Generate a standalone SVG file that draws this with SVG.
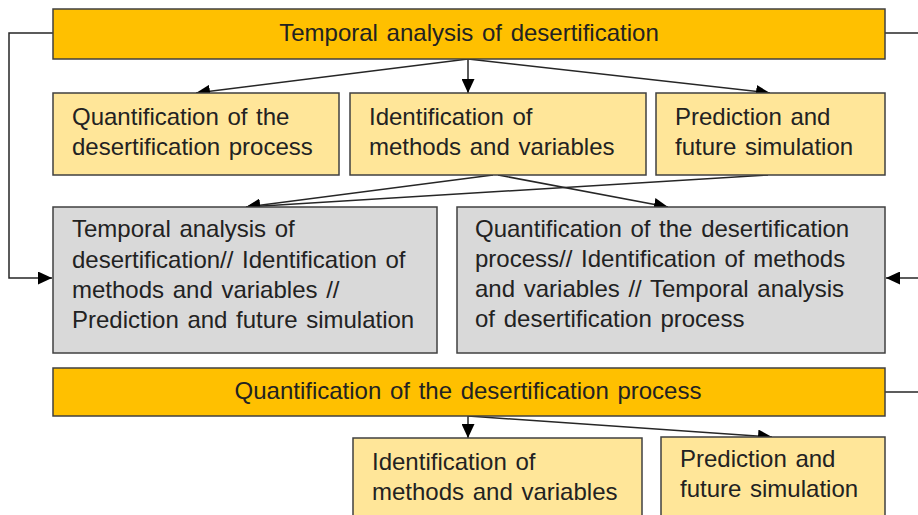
<svg xmlns="http://www.w3.org/2000/svg" width="918" height="515" viewBox="0 0 918 515">
<style>
.bar{fill:#FFC000;stroke:#404040;stroke-width:1.5}
.lt{fill:#FFE699;stroke:#404040;stroke-width:1.5}
.gr{fill:#D9D9D9;stroke:#404040;stroke-width:1.5}
text{font-family:"Liberation Sans",Arial,sans-serif;font-size:24px;fill:#222;word-spacing:2px}
.c{text-anchor:middle}
.ln{fill:none;stroke:#262626;stroke-width:1.5}
</style>
<defs>
<marker id="ah" markerUnits="userSpaceOnUse" markerWidth="15" markerHeight="13" refX="14" refY="6.5" orient="auto">
<path d="M0,0 L14,6.5 L0,13 Z" fill="#000"/>
</marker>
</defs>
<rect width="918" height="515" fill="#fff"/>
<g id="connectors">
<polyline class="ln" points="53,33 9,33 9,278 52,278" marker-end="url(#ah)"/>
<line class="ln" x1="885" y1="33" x2="918" y2="33"/>
<line class="ln" x1="918" y1="278" x2="886" y2="278" marker-end="url(#ah)"/>
<line class="ln" x1="885" y1="392" x2="918" y2="392"/>
<line class="ln" x1="468" y1="59" x2="196" y2="93" marker-end="url(#ah)"/>
<line class="ln" x1="468" y1="59" x2="468" y2="93" marker-end="url(#ah)"/>
<line class="ln" x1="468" y1="59" x2="770" y2="93" marker-end="url(#ah)"/>
<line class="ln" x1="493" y1="175" x2="246" y2="207" marker-end="url(#ah)"/>
<line class="ln" x1="768" y1="175" x2="246" y2="207" marker-end="url(#ah)"/>
<line class="ln" x1="498" y1="175" x2="668" y2="207" marker-end="url(#ah)"/>
<line class="ln" x1="468" y1="416" x2="468" y2="438" marker-end="url(#ah)"/>
<line class="ln" x1="468" y1="416" x2="772" y2="437" marker-end="url(#ah)"/>
</g>
<g id="top">
<rect class="bar" x="53" y="9" width="832" height="50"/>
<text class="c" x="469" y="41">Temporal analysis of desertification</text>
</g>
<g id="quant1">
<rect class="lt" x="53" y="93" width="286" height="82"/>
<text x="72" y="125">Quantification of the</text>
<text x="72" y="155">desertification process</text>
</g>
<g id="ident1">
<rect class="lt" x="350" y="93" width="296" height="82"/>
<text x="369" y="125">Identification of</text>
<text x="369" y="155">methods and variables</text>
</g>
<g id="pred1">
<rect class="lt" x="656" y="93" width="229" height="82"/>
<text x="675" y="125">Prediction and</text>
<text x="675" y="155">future simulation</text>
</g>
<g id="grayL">
<rect class="gr" x="53" y="207" width="384" height="146"/>
<text x="72" y="237">Temporal analysis of</text>
<text x="72" y="268">desertification// Identification of</text>
<text x="72" y="298">methods and variables //</text>
<text x="72" y="328">Prediction and future simulation</text>
</g>
<g id="grayR">
<rect class="gr" x="457" y="207" width="428" height="146"/>
<text x="475" y="237">Quantification of the desertification</text>
<text x="475" y="267">process// Identification of methods</text>
<text x="475" y="297">and variables // Temporal analysis</text>
<text x="475" y="327">of desertification process</text>
</g>
<g id="bottom">
<rect class="bar" x="53" y="368" width="832" height="48"/>
<text class="c" x="468" y="399">Quantification of the desertification process</text>
</g>
<g id="ident2">
<rect class="lt" x="353" y="438" width="289" height="90"/>
<text x="372" y="470">Identification of</text>
<text x="372" y="500">methods and variables</text>
</g>
<g id="pred2">
<rect class="lt" x="661" y="437" width="224" height="90"/>
<text x="680" y="467">Prediction and</text>
<text x="680" y="497">future simulation</text>
</g>
</svg>
